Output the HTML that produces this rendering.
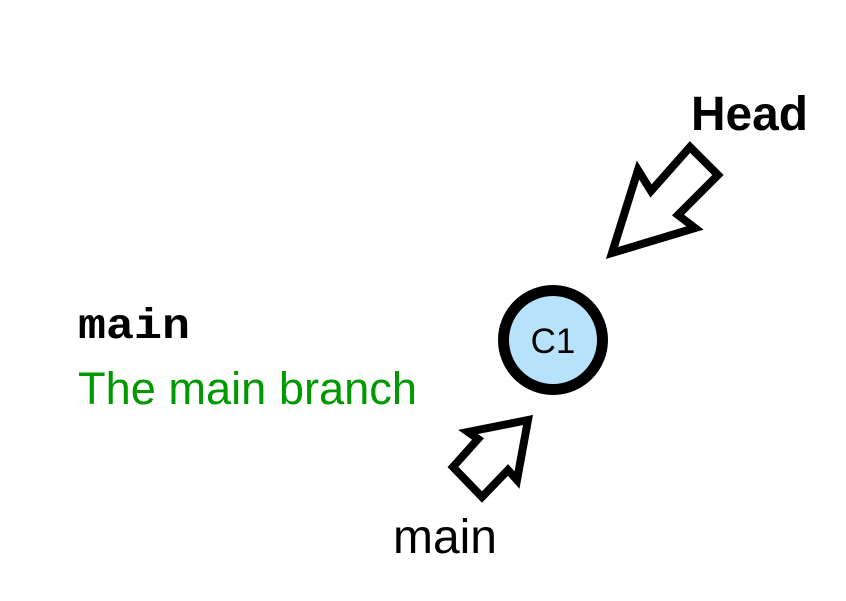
<!DOCTYPE html>
<html><head><style>html,body{margin:0;padding:0;background:#fff}</style></head>
<body>
<svg width="846" height="596" xmlns="http://www.w3.org/2000/svg">
<rect width="846" height="596" fill="#fff"/>
<polygon points="612,253 638,170 651,191 690,147 718,175 678,215 695,228" fill="#fff" stroke="#000" stroke-width="8" stroke-linejoin="miter"/>
<polygon points="528,420 468,432 478,439 453,467 482,497 508,470 517,480" fill="#fff" stroke="#000" stroke-width="8" stroke-linejoin="miter"/>
<circle cx="553" cy="340" r="49.5" fill="#b8e2fb" stroke="#000" stroke-width="11"/>
<text x="553" y="353" font-family="Liberation Sans, sans-serif" font-size="35" text-anchor="middle" fill="#000">C1</text>
<text x="691" y="130" font-family="Liberation Sans, sans-serif" font-size="48" font-weight="bold" textLength="117" lengthAdjust="spacingAndGlyphs" fill="#000">Head</text>
<text x="78" y="338" font-family="Liberation Mono, monospace" font-size="43" font-weight="bold" textLength="112" lengthAdjust="spacingAndGlyphs" fill="#000">main</text>
<text x="78" y="404" font-family="Liberation Sans, sans-serif" font-size="45" textLength="339" lengthAdjust="spacingAndGlyphs" fill="#009900">The main branch</text>
<text x="393" y="553" font-family="Liberation Sans, sans-serif" font-size="48" textLength="104" lengthAdjust="spacingAndGlyphs" fill="#000">main</text>
</svg>
</body></html>
